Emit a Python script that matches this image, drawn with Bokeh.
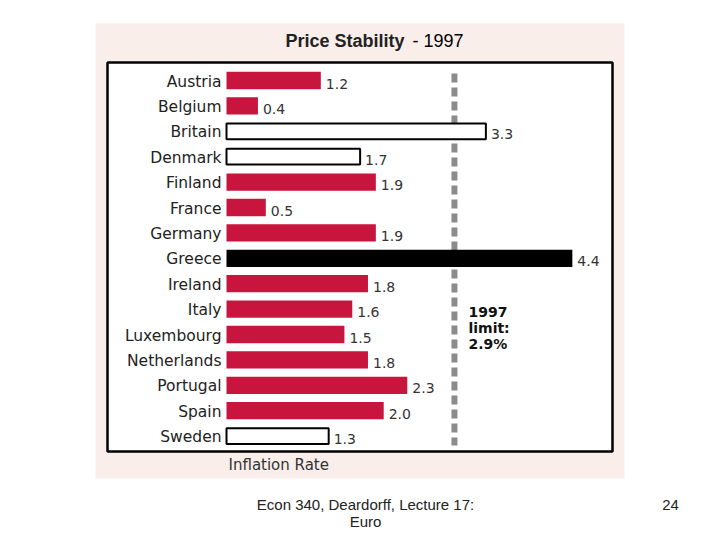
from bokeh.plotting import figure
from bokeh.models import Range1d, ColumnDataSource, Label
from bokeh.core.properties import value
from bokeh.embed import file_html
from bokeh.resources import INLINE

# ---------------- data ----------------
countries = ["Austria", "Belgium", "Britain", "Denmark", "Finland", "France",
             "Germany", "Greece", "Ireland", "Italy", "Luxembourg",
             "Netherlands", "Portugal", "Spain", "Sweden"]
inflation = [1.2, 0.4, 3.3, 1.7, 1.9, 0.5, 1.9, 4.4, 1.8, 1.6, 1.5, 1.8, 2.3, 2.0, 1.3]
status = ["in", "in", "out", "out", "in", "in", "in", "fail", "in", "in", "in",
          "in", "in", "in", "out"]
limit_value = 2.9
limit_year = "1997"
title_main = "Price Stability"
title_year = "- 1997"
axis_title = "Inflation Rate"
footer_lines = ["Econ 340, Deardorff, Lecture 17:", "Euro"]
slide_number = "24"

# ---------------- geometry (page pixels -> data) ----------------
W, H = 704, 532
PAGE = 0
PX_PER_UNIT = 78.6
ZERO_X = 226.0
ROW = 25.4
FIRST_ROW_Y = 80.0


def X(px):
    return (px - ZERO_X) / PX_PER_UNIT


def Y(py):
    return (py - FIRST_ROW_Y) / ROW


RED = "#C8153E"
PINK = "#FAEEEB"
TXT = "#222222"

p = figure(width=W, height=H, output_backend="svg", toolbar_location=None,
           x_range=Range1d(X(PAGE), X(PAGE + W)),
           y_range=Range1d(Y(PAGE + H), Y(PAGE)),
           x_axis_location=None, y_axis_location=None,
           min_border=0, outline_line_color=None,
           background_fill_color="white", border_fill_color="white")
p.grid.visible = False

# image background and chart box
p.quad(left=X(95), right=X(624), top=Y(23), bottom=Y(478),
       fill_color=PINK, line_color=None)
p.quad(left=X(107), right=X(612), top=Y(62), bottom=Y(451),
       fill_color="white", line_color="black", line_width=2.5)

# limit line (behind the bars)
p.segment(x0=limit_value, x1=limit_value, y0=Y(73), y1=Y(445),
          line_color="#8C8C8C", line_width=6, line_dash="9 5")

idx = list(range(len(countries)))
fill_map = {"in": RED, "fail": "black", "out": "white"}

solid = ColumnDataSource(dict(
    y=[i for i in idx if status[i] != "out"],
    v=[inflation[i] for i in idx if status[i] != "out"],
    c=[fill_map[status[i]] for i in idx if status[i] != "out"]))
hollow = ColumnDataSource(dict(
    y=[i for i in idx if status[i] == "out"],
    v=[inflation[i] for i in idx if status[i] == "out"]))

p.hbar(y="y", left=0, right="v", height=0.68, fill_color="c", line_color=None,
       source=solid)
p.hbar(y="y", left=0, right="v", height=0.62, fill_color="white",
       line_color="black", line_width=2, source=hollow)

labels = ColumnDataSource(dict(
    y=idx, v=inflation, name=countries,
    lab=[f"{v:.1f}" for v in inflation]))

p.text(x=0, y="y", text="name", source=labels, x_offset=-5, y_offset=1,
       text_align="right", text_baseline="middle",
       text_font=value("DejaVu Sans"), text_font_size="15.5px", text_color=TXT)
p.text(x="v", y="y", text="lab", source=labels, x_offset=5, y_offset=3,
       text_align="left", text_baseline="middle",
       text_font=value("DejaVu Sans"), text_font_size="14px", text_color="#333333")

# limit note
p.add_layout(Label(x=limit_value, y=Y(303), x_offset=14,
                   text=f"{limit_year}\nlimit:\n{limit_value}%",
                   text_font="DejaVu Sans", text_font_style="bold",
                   text_font_size="14px", text_color="#111111",
                   text_baseline="top", text_line_height=1.02))

# titles
p.add_layout(Label(x=X(285), y=Y(40), text=title_main, text_font="Liberation Sans",
                   text_font_style="bold", text_font_size="18px", text_color=TXT,
                   text_baseline="middle"))
p.add_layout(Label(x=X(412), y=Y(40), text=title_year, text_font="Liberation Sans",
                   text_font_size="18px", text_color="black", text_baseline="middle"))
p.add_layout(Label(x=0, y=Y(464), x_offset=2, text=axis_title, text_font="DejaVu Sans",
                   text_font_size="15px", text_color="#333333", text_baseline="middle"))

# footer
p.add_layout(Label(x=X(365), y=Y(504), text=footer_lines[0], text_font="Liberation Sans",
                   text_font_size="15px", text_color=TXT, text_align="center",
                   text_baseline="middle"))
p.add_layout(Label(x=X(365), y=Y(521), text=footer_lines[1], text_font="Liberation Sans",
                   text_font_size="15px", text_color=TXT, text_align="center",
                   text_baseline="middle"))
p.add_layout(Label(x=X(670), y=Y(504), text=slide_number, text_font="Liberation Sans",
                   text_font_size="15px", text_color=TXT, text_align="center",
                   text_baseline="middle"))

open("out.html", "w").write(file_html(p, INLINE))
